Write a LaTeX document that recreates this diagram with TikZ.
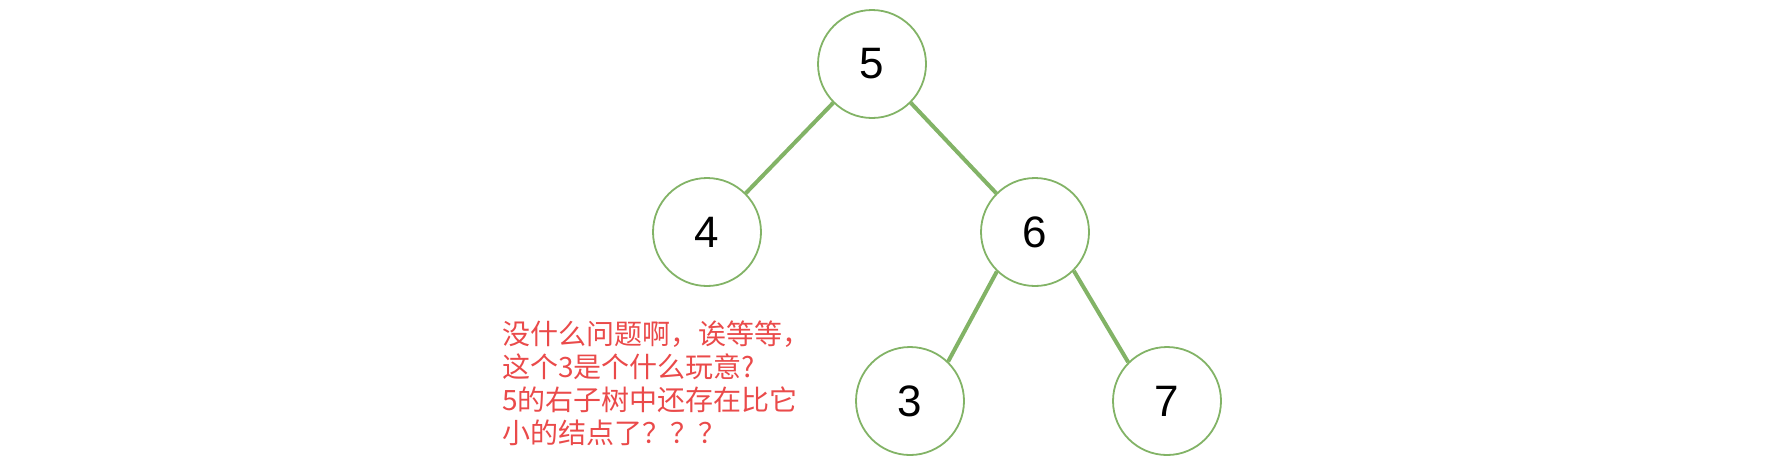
\documentclass[tikz,border=0pt]{standalone}
\usepackage{fontspec}
\setmainfont{Liberation Sans}
\newfontfamily\cjk{Noto Sans CJK SC}
\usepackage{xcolor}
\usetikzlibrary{positioning}

\definecolor{leafgreen}{HTML}{82B366}
\definecolor{notered}{HTML}{EA4A4A}

\begin{document}
\begin{tikzpicture}[x=0.5pt, y=-0.5pt,
		key/.style={circle, draw=leafgreen, line width=0.9pt, fill=white, minimum size=54pt, inner sep=0pt, font=\fontsize{22}{26}\selectfont},
		branch/.style={draw=leafgreen, line width=2pt},
		on grid]
		\useasboundingbox (0,0) rectangle (1770,468);
		\node[key] (five) at (872,64) {5};
		\node[key, below left=84pt and 82.5pt of five] (four) {4};
		\node[key, below right=84pt and 81.5pt of five] (six) {6};
		\node[key, below left=84.5pt and 62.5pt of six] (three) {3};
		\node[key, below right=84.5pt and 66pt of six] (seven) {7};
		\draw[branch] (five.225) -- (four.45);
		\draw[branch] (five.315) -- (six.135);
		\draw[branch] (six.226) -- (three.46);
		\draw[branch] (six.315) -- (seven.135);
		% the question beside the tree
		\node[anchor=north west, align=left, inner sep=0pt, text=notered, font=\cjk\fontsize{14}{16.5}\selectfont] (note) at (502,320) {没什么问题啊，诶等等，\\这个3是个什么玩意?\\5的右子树中还存在比它\\小的结点了？？？};
	\end{tikzpicture}
\end{document}
